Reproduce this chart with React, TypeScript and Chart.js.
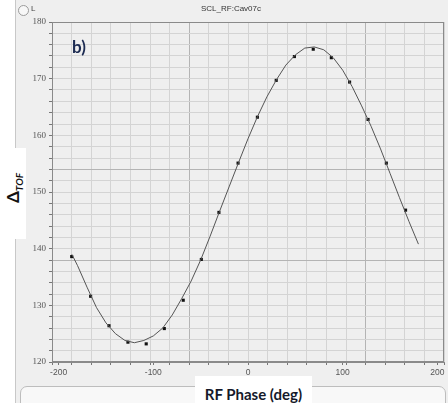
import React, { useEffect, useRef } from "react";
import { Chart, registerables } from "chart.js";
Chart.register(...registerables);

// Measured points: RF phase (deg) vs Δ_TOF
const phaseMeasured = [-186.2, -166.2, -146.8, -126.8, -107.5, -88.4, -68.4, -49.3, -30.7, -10.5, 9.9, 29.8, 49.0, 68.9, 88.0, 107.3, 126.8, 146.1, 166.4];
const tofMeasured = [138.6, 131.6, 126.4, 123.5, 123.2, 125.9, 130.9, 138.1, 146.4, 155.1, 163.2, 169.7, 173.9, 175.2, 173.7, 169.4, 162.8, 155.1, 146.8];

// Fitted curve
const phaseFit = [-186, -180, -170, -160, -150, -140, -130, -120, -110, -100, -90, -80, -70, -60, -50, -40, -30, -20, -10, 0, 10, 20, 30, 40, 50, 60, 70, 80, 90, 100, 110, 120, 130, 140, 150, 160, 170, 180];
const tofFit = [139.0, 137.0, 133.2, 129.6, 126.9, 125.0, 123.8, 123.4, 123.8, 124.6, 126.0, 128.3, 131.2, 134.3, 138.0, 142.2, 146.6, 150.9, 155.2, 159.4, 163.3, 166.8, 169.8, 172.4, 174.2, 175.4, 175.6, 175.1, 173.7, 171.5, 168.6, 165.2, 161.6, 157.6, 153.3, 149.0, 144.8, 140.8];

const xTickLabels = [-200, -100, 0, 100, 200];
const yTickLabels = [120, 130, 140, 150, 160, 170, 180];

const X_MIN = -207;
const X_MAX = 207;
const X_DIVS = 20;
const X_DARK = [7, 16];
const Y_MIN = 120;
const Y_MAX = 180;
const Y_STEP = 2;
const Y_DARK = [138, 154];

const near = (a: number, b: number) => Math.abs(a - b) < 0.01;

export default function App() {
  const ref = useRef<HTMLCanvasElement | null>(null);
  useEffect(() => {
    document.body.style.margin = "0";
    const canvas = ref.current!;
    const xGrid: number[] = [];
    for (let k = 0; k <= X_DIVS; k++) xGrid.push(X_MIN + (k * (X_MAX - X_MIN)) / X_DIVS);
    const xGridDark = X_DARK.map((k) => xGrid[k]);

    const bgPlugin = {
      id: "bg",
      beforeDraw(chart: any) {
        const { ctx, chartArea } = chart;
        ctx.save();
        ctx.fillStyle = "#efefef";
        ctx.fillRect(chartArea.left, chartArea.top, chartArea.right - chartArea.left, chartArea.bottom - chartArea.top);
        ctx.restore();
      },
      afterDraw(chart: any) {
        const { ctx, chartArea } = chart;
        ctx.save();
        ctx.strokeStyle = "#8a8a8a";
        ctx.lineWidth = 1;
        ctx.strokeRect(chartArea.left + 0.5, chartArea.top + 0.5, chartArea.right - chartArea.left - 1, chartArea.bottom - chartArea.top - 1);
        ctx.restore();
      },
    };

    const chart = new Chart(canvas, {
      type: "scatter",
      data: {
        datasets: [
          {
            data: phaseFit.map((x, i) => ({ x, y: tofFit[i] })),
            showLine: true,
            borderColor: "#555555",
            borderWidth: 1,
            pointRadius: 0,
            tension: 0,
          },
          {
            data: phaseMeasured.map((x, i) => ({ x, y: tofMeasured[i] })),
            showLine: false,
            pointStyle: "rect",
            pointRadius: 2.2,
            backgroundColor: "#111111",
            borderColor: "#111111",
            borderWidth: 0,
          },
        ],
      },
      options: {
        animation: false,
        responsive: false,
        devicePixelRatio: 1,
        layout: { padding: { top: 22, right: 1, left: 0, bottom: 0 } },
        plugins: { legend: { display: false }, tooltip: { enabled: false }, title: { display: false } },
        scales: {
          x: {
            type: "linear",
            min: X_MIN,
            max: X_MAX,
            afterBuildTicks(scale: any) {
              const vals = [...xGrid];
              xTickLabels.forEach((v) => {
                if (!vals.some((g) => near(g, v))) vals.push(v);
              });
              vals.sort((a, b) => a - b);
              scale.ticks = vals.map((value) => ({ value }));
            },
            afterFit(scale: any) {
              scale.height = 41;
            },
            ticks: {
              autoSkip: false,
              maxRotation: 0,
              padding: 3,
              color: "#555555",
              font: { family: "Liberation Sans", size: 8.5 },
              callback: (v: any) => {
                const n = Number(v);
                return xTickLabels.some((l) => near(l, n)) ? String(Math.round(n)) : "";
              },
            },
            grid: {
              tickLength: 3,
              color: (ctx: any) => {
                const v = ctx.tick ? ctx.tick.value : 0;
                if (!xGrid.some((g) => near(g, v))) return "rgba(0,0,0,0)";
                if (xGridDark.some((g) => near(g, v))) return "#b4b4b4";
                return "#d4d4d4";
              },
              tickColor: "#777777",
            },
            border: { color: "#8a8a8a", width: 1 },
          },
          y: {
            type: "linear",
            min: Y_MIN,
            max: Y_MAX,
            afterFit(scale: any) {
              scale.width = 52;
            },
            ticks: {
              stepSize: Y_STEP,
              autoSkip: false,
              padding: 3,
              color: "#555555",
              font: { family: "Liberation Serif", size: 9 },
              callback: (v: any) => {
                const n = Number(v);
                return yTickLabels.some((l) => near(l, n)) ? String(Math.round(n)) : "";
              },
            },
            grid: {
              tickLength: 3,
              color: (ctx: any) => {
                const v = ctx.tick ? ctx.tick.value : 0;
                if (Y_DARK.some((g) => near(g, v))) return "#b4b4b4";
                return "#d4d4d4";
              },
              tickColor: "#777777",
            },
            border: { color: "#8a8a8a", width: 1 },
          },
        },
      },
      plugins: [bgPlugin],
    } as any);
    return () => chart.destroy();
  }, []);

  return (
    <div style={{ position: "fixed", left: 0, top: 0, width: 448, height: 403, background: "#ffffff", overflow: "hidden" }}>
      <div style={{ position: "absolute", left: 15, top: 0, width: 433, height: 403, background: "#efefef", borderLeft: "1px solid #c8c8c8" }} />
      <div style={{ position: "absolute", left: 20, top: 386, width: 424, height: 30, background: "#f8f8f8", border: "1px solid #bdbdbd", borderRadius: 7 }} />
      <canvas ref={ref} width={448} height={403} style={{ position: "absolute", left: 0, top: 0, width: 448, height: 403 }} />
      <div style={{ position: "absolute", left: 18, top: 5, width: 9, height: 9, borderRadius: "50%", border: "1px solid #9a9a9a", background: "#f7f7f7" }} />
      <div style={{ position: "absolute", left: 31, top: 4, fontFamily: "Liberation Sans", fontSize: 8, color: "#444" }}>L</div>
      <div style={{ position: "absolute", left: 0, top: 4, width: 462, textAlign: "center", fontFamily: "Liberation Sans", fontSize: 8, color: "#333" }}>SCL_RF:Cav07c</div>
      <div style={{ position: "absolute", left: 72, top: 36, fontFamily: "Lato", fontWeight: 700, fontSize: 17, color: "#1c2b52" }}>b)</div>
      <div style={{ position: "absolute", left: 0, top: 148, width: 26, height: 91, background: "#ffffff" }} />
      <div
        style={{
          position: "absolute",
          left: 14,
          top: 188,
          transform: "translate(-50%, -50%) rotate(-90deg)",
          whiteSpace: "nowrap",
          fontFamily: "Lato",
          fontWeight: 700,
          color: "#111",
          fontSize: 17,
          lineHeight: 1,
        }}
      >
        Δ<sub style={{ fontSize: 10, fontStyle: "italic", verticalAlign: "-4px" }}>TOF</sub>
      </div>
      <div
        style={{
          position: "absolute",
          left: 195,
          top: 376,
          width: 117,
          height: 27,
          background: "#ffffff",
          textAlign: "center",
          fontFamily: "Lato",
          fontWeight: 700,
          fontSize: 15,
          color: "#15192a",
          lineHeight: "36px",
        }}
      >
        RF Phase (deg)
      </div>
    </div>
  );
}
